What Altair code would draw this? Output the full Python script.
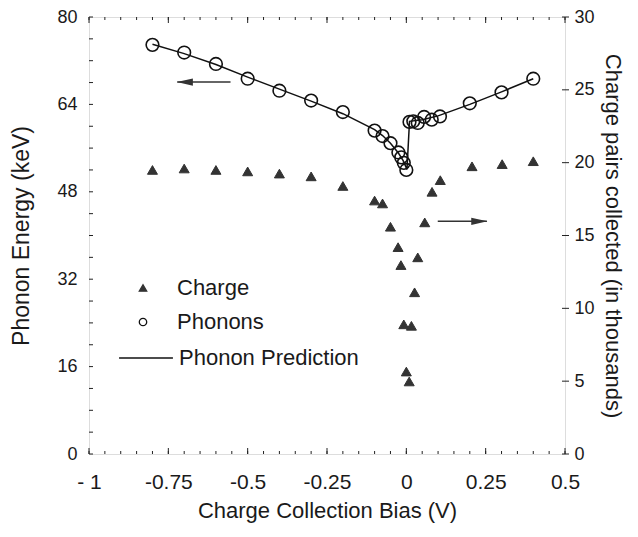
import altair as alt
import pandas as pd

# ---------------- data ----------------
phonon_bias = [-0.8, -0.7, -0.6, -0.5, -0.4, -0.3, -0.2, -0.1, -0.075, -0.05,
               -0.025, -0.016, -0.008, 0.0, 0.01, 0.022, 0.036, 0.056, 0.08,
               0.106, 0.2, 0.3, 0.4]
phonon_kev = [74.9, 73.5, 71.4, 68.7, 66.5, 64.7, 62.6, 59.2, 58.2, 56.9,
              55.2, 54.3, 53.3, 52.0, 60.8, 60.9, 60.6, 61.7, 61.2, 61.8,
              64.2, 66.2, 68.7]

charge_bias = [-0.8, -0.7, -0.6, -0.5, -0.4, -0.3, -0.2, -0.1, -0.075, -0.05,
               -0.026, -0.017, -0.008, 0.0, 0.009, 0.016, 0.026, 0.036, 0.058,
               0.081, 0.107, 0.207, 0.302, 0.4]
charge_k = [19.5, 19.6, 19.5, 19.4, 19.25, 19.06, 18.4, 17.4, 17.2, 15.6,
            14.2, 12.97, 8.9, 5.66, 4.98, 8.8, 11.1, 13.5, 15.9,
            18.0, 18.8, 19.75, 19.9, 20.1]

pred_bias = [-0.8, -0.7, -0.6, -0.5, -0.4, -0.3, -0.2, -0.1, -0.075, -0.05,
             -0.025, -0.01, 0.002, 0.01, 0.05, 0.1, 0.2, 0.3, 0.4]
pred_kev = [75.0, 73.3, 71.3, 69.0, 66.8, 64.6, 62.3, 59.4, 58.3, 56.9,
            55.1, 53.7, 52.1, 60.9, 61.2, 61.9, 64.0, 66.3, 68.7]

# annotation arrows: tip, tail (bias) and level (keV, left axis)
arrow_tip = [-0.722, 0.254]
arrow_tail = [-0.554, 0.099]
arrow_kev = [68.1, 42.6]
arrow_dir = ["left", "right"]

# axis tick values
x_major = [-1, -0.75, -0.5, -0.25, 0, 0.25, 0.5]
x_minor = [round(-1 + 0.05 * i, 2) for i in range(31)]
left_ticks = list(range(0, 81, 4))
left_labels = [0, 16, 32, 48, 64, 80]
right_ticks = [0, 5, 10, 15, 20, 25, 30]

# ---------------- styling ----------------
W, H = 476, 437
FONT = "Liberation Sans"
INK = "#1a1a1a"

xs = alt.Scale(domain=[-1, 0.5], nice=False, zero=False)
ls = alt.Scale(domain=[0, 80], nice=False, zero=False)
rs = alt.Scale(domain=[0, 30], nice=False, zero=False)

x_label_expr = ("datum.value == -1 ? '- 1' : (datum.value < 0 ? '-' + format(-datum.value, '.2~f') "
                ": format(datum.value, '.2~f'))")

x_axis = alt.Axis(values=x_major, labelExpr=x_label_expr, ticks=False, domain=False, grid=False,
                  labelPadding=17, labelFontSize=21, labelFont=FONT, labelColor=INK,
                  labelFlush=False, labelOverlap=False,
                  title="Charge Collection Bias (V)", titleFont=FONT, titleFontSize=22,
                  titleFontWeight="normal", titleColor=INK, titlePadding=8)
left_axis = alt.Axis(values=left_labels, ticks=False, domain=False, grid=False,
                     labelPadding=12, labelFontSize=18, labelFont=FONT, labelColor=INK,
                     labelFlush=False, labelOverlap=False,
                     title="Phonon Energy (keV)", titleFont=FONT, titleFontSize=23,
                     titleFontWeight="normal", titleColor=INK, titlePadding=23)
right_axis = alt.Axis(orient="right", values=right_ticks, ticks=False, domain=False, grid=False,
                      labelPadding=9, labelFontSize=18, labelFont=FONT, labelColor=INK,
                      labelFlush=False, labelOverlap=False,
                      title="Charge pairs collected (in thousands)", titleFont=FONT,
                      titleFontSize=22, titleFontWeight="normal", titleColor=INK,
                      titlePadding=6)


def X(field):
    return alt.X(field, type="quantitative", scale=xs, axis=x_axis)


series_domain = ["Charge", "Phonons"]
pt_legend = alt.Legend(title=None, orient="none", legendX=43, legendY=260,
                       symbolSize=55, symbolStrokeWidth=1.3, labelFont=FONT,
                       labelFontSize=22, labelColor=INK, labelOffset=23, rowPadding=12,
                       labelLimit=0)
shape_enc = alt.Shape("series:N", scale=alt.Scale(domain=series_domain,
                                                  range=["triangle-up", "circle"]), legend=pt_legend)
fill_enc = alt.Fill("series:N", scale=alt.Scale(domain=series_domain,
                                                range=["#333333", "transparent"]), legend=pt_legend)
stroke_enc = alt.Stroke("series:N", scale=alt.Scale(domain=series_domain,
                                                    range=["#333333", "#111111"]), legend=pt_legend)

phon_df = pd.DataFrame({"bias": phonon_bias, "kev": phonon_kev, "series": "Phonons"})
charge_df = pd.DataFrame({"bias": charge_bias, "k": charge_k, "series": "Charge"})
pred_df = pd.DataFrame({"bias": pred_bias, "kev": pred_kev, "series": "Phonon Prediction"})
arrow_df = pd.DataFrame({"tip": arrow_tip, "tail": arrow_tail, "kev": arrow_kev, "dir": arrow_dir})
arrow_df["head"] = [t + (0.024 if d == "left" else -0.024) for t, d in zip(arrow_tip, arrow_dir)]

# prediction line
line = alt.Chart(pred_df).mark_line(strokeWidth=1.5).encode(
    x=X("bias"),
    y=alt.Y("kev:Q", scale=ls, axis=None),
    color=alt.Color("series:N", scale=alt.Scale(domain=["Phonon Prediction"], range=["#111111"]),
                    legend=alt.Legend(title=None, orient="none", legendX=29, legendY=313,
                                      symbolType="stroke", symbolSize=2900, symbolStrokeWidth=1.4,
                                      labelFont=FONT, labelFontSize=22, labelColor=INK,
                                      labelOffset=5, labelLimit=0)),
)

phonons = alt.Chart(phon_df).mark_point(size=160, strokeWidth=1.6, opacity=1).encode(
    x=X("bias"),
    y=alt.Y("kev:Q", scale=ls, axis=left_axis),
    shape=shape_enc, fill=fill_enc, stroke=stroke_enc,
)

charges = alt.Chart(charge_df).mark_point(size=100, strokeWidth=1, opacity=1).encode(
    x=X("bias"),
    y=alt.Y("k:Q", scale=rs, axis=right_axis),
    shape=shape_enc, fill=fill_enc, stroke=stroke_enc,
)

# arrows
arrow_lines = alt.Chart(arrow_df).mark_rule(strokeWidth=1.6, color="#333333").encode(
    x=X("tip"), x2="tail:Q",
    y=alt.Y("kev:Q", scale=ls, axis=None),
)
head_left = alt.Chart(arrow_df).transform_filter(alt.datum.dir == "left").mark_point(
    filled=True, opacity=1, size=260, color="#333333", shape="M-1,0L1,-0.45L1,0.45Z").encode(
    x=X("head"), y=alt.Y("kev:Q", scale=ls, axis=None))
head_right = alt.Chart(arrow_df).transform_filter(alt.datum.dir == "right").mark_point(
    filled=True, opacity=1, size=260, color="#333333", shape="M1,0L-1,-0.45L-1,0.45Z").encode(
    x=X("head"), y=alt.Y("kev:Q", scale=ls, axis=None))

# inward ticks (frame decorations)
xminor_df = pd.DataFrame({"v": x_minor})
xmajor_df = pd.DataFrame({"v": x_major})
tick_color = "#222222"
top_minor = alt.Chart(xminor_df).mark_rule(color=tick_color, strokeWidth=1).encode(
    x=X("v"), y=alt.value(0), y2=alt.value(3))
bot_minor = alt.Chart(xminor_df).mark_rule(color=tick_color, strokeWidth=1).encode(
    x=X("v"), y=alt.value(H), y2=alt.value(H - 3))
top_major = alt.Chart(xmajor_df).mark_rule(color=tick_color, strokeWidth=1).encode(
    x=X("v"), y=alt.value(0), y2=alt.value(6))
bot_major = alt.Chart(xmajor_df).mark_rule(color=tick_color, strokeWidth=1).encode(
    x=X("v"), y=alt.value(H), y2=alt.value(H - 6))
left_t = alt.Chart(pd.DataFrame({"v": left_ticks})).mark_rule(color=tick_color, strokeWidth=1).encode(
    y=alt.Y("v:Q", scale=ls, axis=None), x=alt.value(0), x2=alt.value(4))
right_t = alt.Chart(pd.DataFrame({"v": right_ticks})).mark_rule(color=tick_color, strokeWidth=1).encode(
    y=alt.Y("v:Q", scale=rs, axis=None), x=alt.value(W - 3), x2=alt.value(W + 4))

chart = alt.layer(
    top_minor, bot_minor, top_major, bot_major, left_t, right_t,
    line, arrow_lines, head_left, head_right, phonons, charges,
).resolve_scale(
    y="independent"
).properties(
    width=W, height=H,
    autosize=alt.AutoSizeParams(type="none"),
    padding={"left": 81, "top": 9, "right": 65, "bottom": 70},
).configure_view(
    stroke=INK, strokeWidth=1.5
).configure(
    background="white"
)

chart.save("out.html", embed_options={"renderer": "svg", "actions": False})
